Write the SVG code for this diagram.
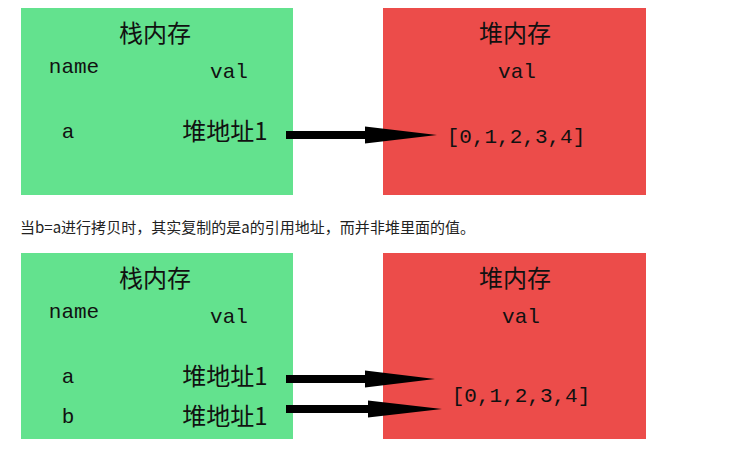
<svg xmlns="http://www.w3.org/2000/svg" width="754" height="463" viewBox="0 0 754 463">
<style>
.stack{fill:#63e28e}
.heap{fill:#ec4c4a}
.cjk{font-family:"Noto Sans CJK SC","Noto Sans CJK TC",sans-serif;font-size:24px;fill:#111}
.mono{font-family:"Liberation Mono","DejaVu Sans Mono",monospace;font-size:21px;fill:#111}
.cap{font-family:"Microsoft YaHei","Noto Sans CJK SC",sans-serif;font-size:15px;fill:#222}
.shaft{stroke:#000;stroke-width:8;fill:none}
.head{fill:#000}
</style>
<rect width="754" height="463" fill="#fff"/>
<g id="stack1">
<rect class="stack" x="21" y="8" width="272" height="187"/>
<text class="cjk" x="155" y="42" text-anchor="middle">栈内存</text>
<text class="mono" x="74" y="73" text-anchor="middle">name</text>
<text class="mono" x="229" y="78" text-anchor="middle">val</text>
<text class="mono" x="68" y="138" text-anchor="middle">a</text>
<text class="cjk" x="225" y="140" text-anchor="middle">堆地址1</text>
</g>
<g id="heap1">
<rect class="heap" x="383" y="8" width="263" height="187"/>
<text class="cjk" x="515" y="42" text-anchor="middle">堆内存</text>
<text class="mono" x="517" y="78" text-anchor="middle">val</text>
<text class="mono" x="516" y="143" text-anchor="middle">[0,1,2,3,4]</text>
</g>
<text class="cap" x="20" y="233" textLength="455" lengthAdjust="spacing">当b=a进行拷贝时，其实复制的是a的引用地址，而并非堆里面的值。</text>
<g id="stack2">
<rect class="stack" x="21" y="253" width="272" height="186"/>
<text class="cjk" x="155" y="287" text-anchor="middle">栈内存</text>
<text class="mono" x="74" y="318" text-anchor="middle">name</text>
<text class="mono" x="229" y="323" text-anchor="middle">val</text>
<text class="mono" x="68" y="383" text-anchor="middle">a</text>
<text class="mono" x="68" y="423" text-anchor="middle">b</text>
<text class="cjk" x="225" y="385" text-anchor="middle">堆地址1</text>
<text class="cjk" x="225" y="425" text-anchor="middle">堆地址1</text>
</g>
<g id="heap2">
<rect class="heap" x="383" y="253" width="263" height="186"/>
<text class="cjk" x="515" y="287" text-anchor="middle">堆内存</text>
<text class="mono" x="521" y="323" text-anchor="middle">val</text>
<text class="mono" x="521" y="402" text-anchor="middle">[0,1,2,3,4]</text>
</g>
<g id="connectors">
<line class="shaft" x1="286" y1="135" x2="367" y2="135"/>
<polygon class="head" points="365,126.5 437,135 365,143.5"/>
<line class="shaft" x1="286" y1="379" x2="367" y2="379"/>
<polygon class="head" points="365,370.5 435,379 365,387.5"/>
<line class="shaft" x1="286" y1="409" x2="370" y2="409"/>
<polygon class="head" points="368,400.5 442,409 368,417.5"/>
</g>
</svg>
